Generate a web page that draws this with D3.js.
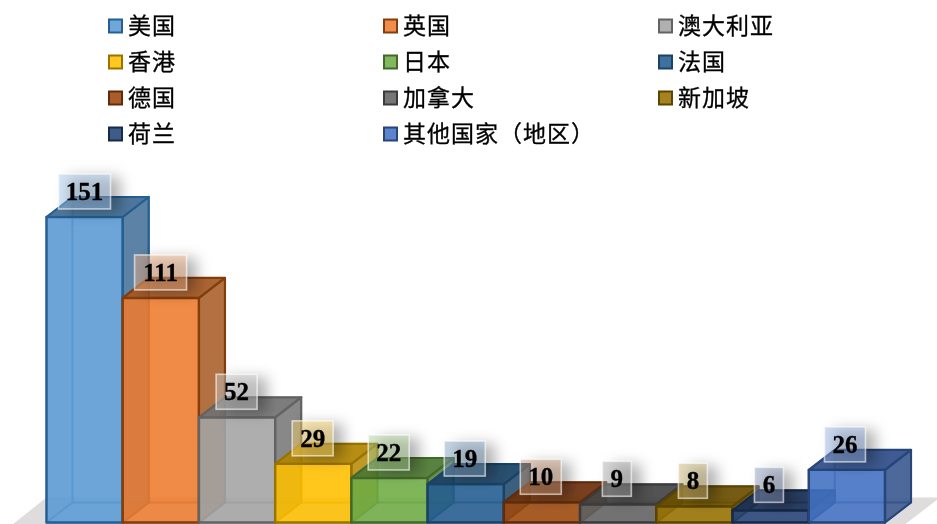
<!DOCTYPE html>
<html><head><meta charset="utf-8">
<script src="https://cdn.jsdelivr.net/npm/d3@7"></script>
<style>html,body{margin:0;padding:0;background:#fff}svg{display:block}</style></head>
<body><svg id="c" width="937" height="524"></svg>
<script>
const categories=["美国","英国","澳大利亚","香港","日本","法国","德国","加拿大","新加坡","荷兰","其他国家（地区）"];
const values=[151,111,52,29,22,19,10,9,8,6,26];
const fills=["#5b9bd5","#ed7d31","#a5a5a5","#ffc000","#70ad47","#255e91","#9e480e","#636363","#997300","#264478","#4472c4"];
const strokes=["#255e91","#843c0c","#636363","#997300","#43682b","#1a4367","#5f2c08","#3b3b3b","#5c4500","#172948","#264478"];
const legendColumns=3;

const W=937,H=524,depthX=26,depthY=20;
const svg=d3.select("#c");
const x=d3.scaleBand().domain(categories).range([46.5,885]).padding(0);
const labelX=d3.scaleBand().domain(categories).range([46.5,883]).padding(0);
const y=d3.scaleLinear().domain([0,151]).range([522.5,217]);
const defs=svg.append("defs");
defs.append("filter").attr("id","soft").attr("x","-5%").attr("y","-5%").attr("width","110%").attr("height","110%")
  .append("feGaussianBlur").attr("stdDeviation",0.5);
defs.append("filter").attr("id","shadow").attr("x","-60%").attr("y","-60%").attr("width","220%").attr("height","220%")
  .append("feGaussianBlur").attr("stdDeviation",7);

const root=svg.append("g").attr("filter","url(#soft)");
const base=y(0);
// floor
root.append("path").attr("fill","#dedcdc")
  .attr("d",`M3,${H+8}L${x.range()[0]},${base-25}H${W+3}L${W-42},${H+8}Z`);

const line=p=>"M"+p.map(d=>d.join(",")).join("L")+"Z";
const bars=root.selectAll("g.bar").data(categories).join("g").attr("class","bar");
bars.each(function(c,i){
  const g=d3.select(this),x0=x(c),x1=x0+x.bandwidth(),t=y(values[i]),f=fills[i],s=strokes[i];
  const dark=d3.color(f).darker(1.05).formatHex();
  const face=(pts,fill,op)=>g.append("path").attr("d",line(pts)).attr("fill",fill).attr("fill-opacity",op)
     .attr("stroke",s).attr("stroke-opacity",0.4).attr("stroke-width",2).attr("stroke-linejoin","round");
  // inner faces
  face([[x0,base],[x1,base],[x1+depthX,base-depthY],[x0+depthX,base-depthY]],f,0.12);
  face([[x0+depthX,base-depthY],[x0+depthX,t-depthY],[x1+depthX,t-depthY],[x1+depthX,base-depthY]],f,0.25);
  face([[x0,base],[x0,t],[x0+depthX,t-depthY],[x0+depthX,base-depthY]],dark,0.22);
  // outer faces
  face([[x0,t],[x1,t],[x1,base],[x0,base]],f,0.86).attr("stroke-opacity",1).attr("stroke-width",2.4);
  face([[x1,base],[x1,t],[x1+depthX,t-depthY],[x1+depthX,base-depthY]],dark,0.8).attr("stroke-opacity",1).attr("stroke-width",2.2);
  face([[x0,t],[x1,t],[x1+depthX,t-depthY],[x0+depthX,t-depthY]],dark,0.9).attr("stroke-opacity",1).attr("stroke-width",2.2);
});
// labels
const boxH=35,rise=25.5;
const boxW=v=>String(v).length===3?52:String(v).length===2?41:29;
const labels=root.selectAll("g.lab").data(values).join("g").attr("class","lab")
  .attr("transform",(v,i)=>`translate(${labelX(categories[i])+labelX.bandwidth()/2},${y(v)-rise})`);
labels.append("rect").attr("x",v=>-boxW(v)/2+10).attr("y",-boxH/2+3).attr("width",v=>boxW(v)).attr("height",boxH)
  .attr("fill","#000").attr("fill-opacity",0.3).attr("filter","url(#shadow)");
labels.append("rect").attr("x",v=>-boxW(v)/2).attr("y",-boxH/2).attr("width",v=>boxW(v)).attr("height",boxH)
  .attr("fill",(v,i)=>fills[i]).attr("fill-opacity",0.33)
  .attr("stroke","#fff").attr("stroke-opacity",0.6).attr("stroke-width",1.6);
labels.append("rect").attr("x",v=>-boxW(v)/2).attr("y",-boxH/2).attr("width",v=>boxW(v)).attr("height",boxH)
  .attr("fill","#fff").attr("fill-opacity",0.2);
labels.append("text").attr("text-anchor","middle").attr("y",8.5).text(v=>v)
  .attr("font-family","'Liberation Serif','Times New Roman',serif").attr("font-weight","bold").attr("font-size",25)
  .attr("fill","#000").attr("stroke","#000").attr("stroke-width",0.35);
// legend
const lx=d3.scalePoint().domain(d3.range(legendColumns)).range([108,658]);
const ly=d3.scalePoint().domain(d3.range(Math.ceil(categories.length/legendColumns))).range([26,134]);
const leg=root.selectAll("g.leg").data(categories).join("g").attr("class","leg")
  .attr("transform",(c,i)=>`translate(${lx(i%legendColumns)},${ly(Math.floor(i/legendColumns))})`);
leg.append("rect").attr("x",1).attr("y",-6.5).attr("width",13).attr("height",13).attr("fill",(c,i)=>fills[i]).attr("fill-opacity",.88)
  .attr("stroke",(c,i)=>strokes[i]).attr("stroke-width",2);
leg.append("text").attr("x",20).attr("y",7.5).text(c=>c).attr("font-family","'Noto Sans CJK SC'").attr("font-size",23)
  .attr("letter-spacing",1).attr("fill","#000").attr("stroke","#000").attr("stroke-width",0.3);
</script></body></html>
